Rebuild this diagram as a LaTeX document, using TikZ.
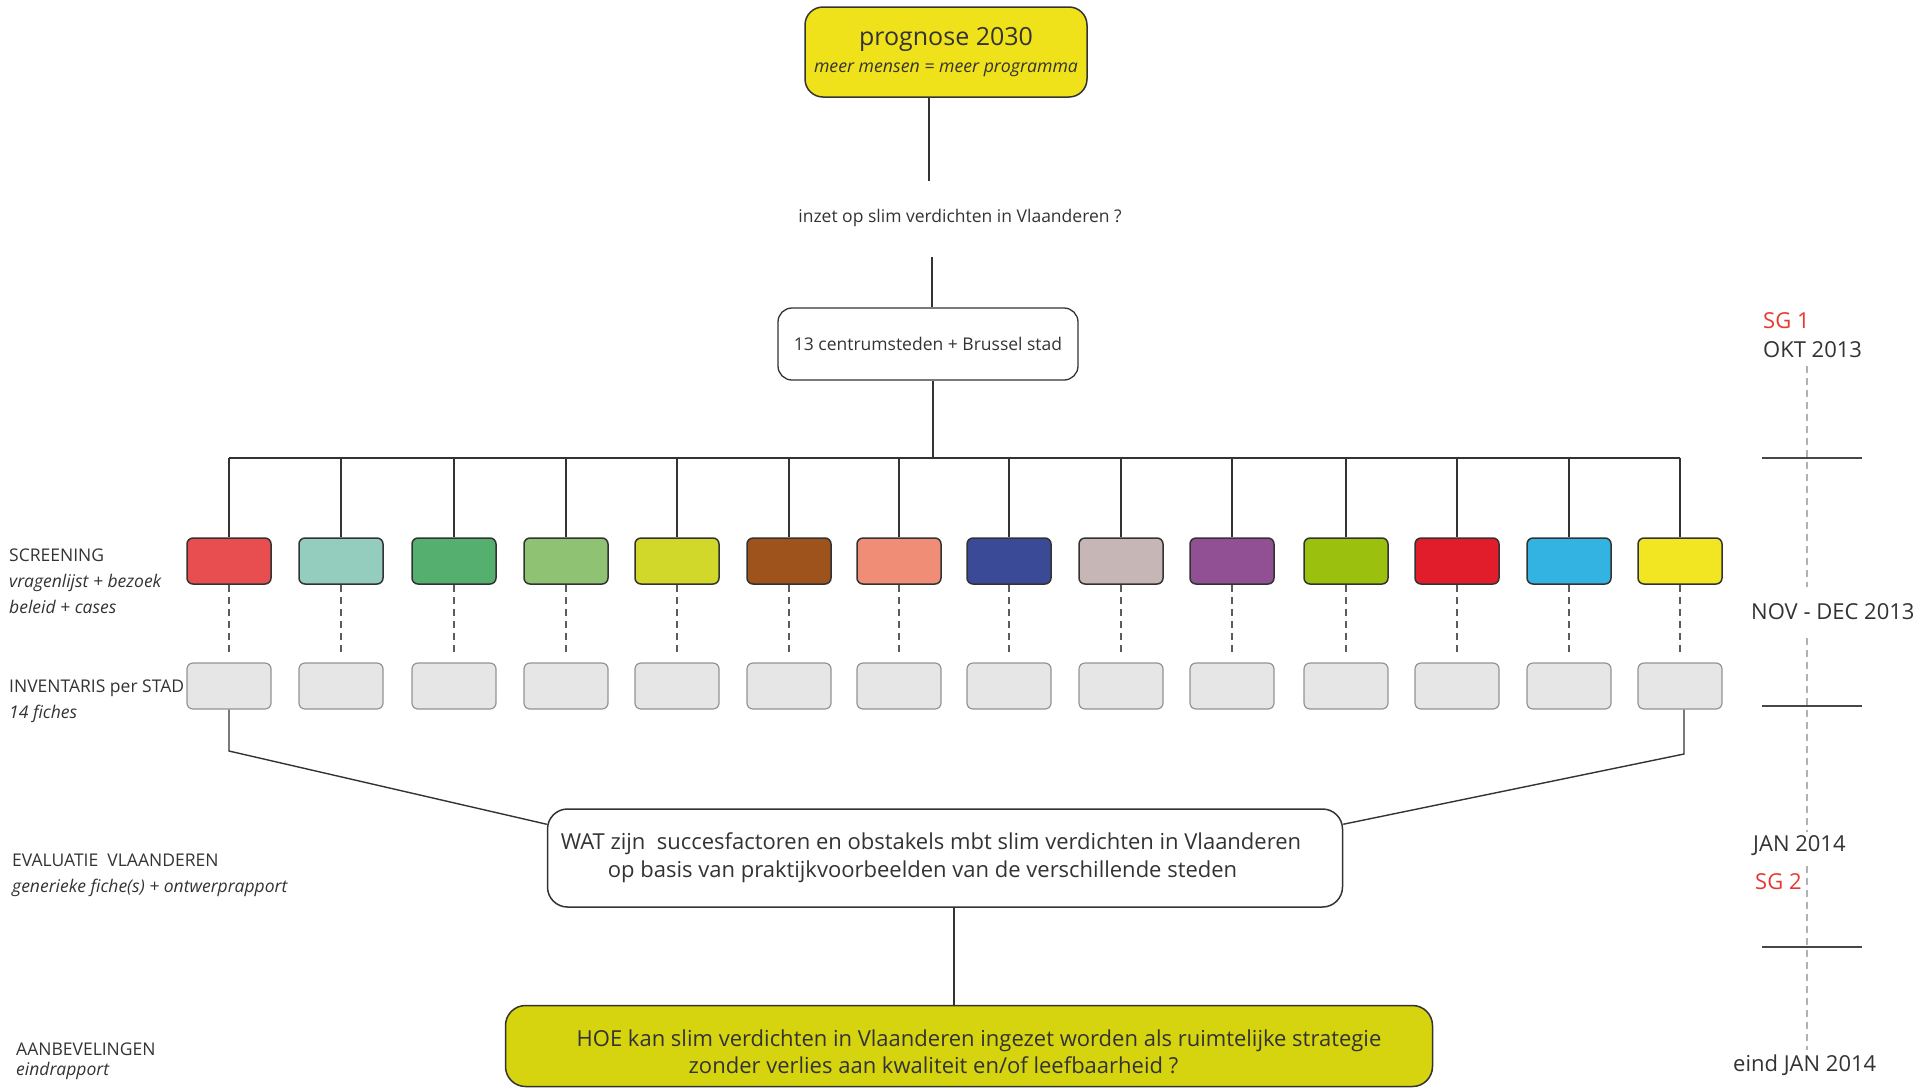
\documentclass[tikz,border=0pt]{standalone}
\usepackage{fontspec}
\setmainfont{Open Sans}

\definecolor{ink}{HTML}{333333}
\definecolor{sgred}{HTML}{E8392E}
\definecolor{progyellow}{HTML}{F0E21A}
\definecolor{hoegreen}{HTML}{D5D40E}
\definecolor{fichegray}{HTML}{E6E6E6}
\definecolor{stadA}{HTML}{E84E50}
\definecolor{stadB}{HTML}{94CDBE}
\definecolor{stadC}{HTML}{55AF6F}
\definecolor{stadD}{HTML}{8FC272}
\definecolor{stadE}{HTML}{D2D82A}
\definecolor{stadF}{HTML}{9E521C}
\definecolor{stadG}{HTML}{F08D77}
\definecolor{stadH}{HTML}{3B4A96}
\definecolor{stadI}{HTML}{C6B6B6}
\definecolor{stadJ}{HTML}{915094}
\definecolor{stadK}{HTML}{9BC00E}
\definecolor{stadL}{HTML}{E21D2B}
\definecolor{stadM}{HTML}{33B3E1}
\definecolor{stadN}{HTML}{F2E622}

\begin{document}
\begin{tikzpicture}[
    x=1pt, y=-1pt,
    bigbox/.style={draw=ink, line width=1.5pt, rounded corners=18pt, align=center, text=ink, inner sep=0pt},
    stadbox/.style={draw=ink, line width=1.5pt, rounded corners=6pt, minimum width=84pt, minimum height=46pt, inner sep=0pt},
    fiche/.style={draw=gray!85, fill=fichegray, line width=1.2pt, rounded corners=6pt, minimum width=84pt, minimum height=46pt, inner sep=0pt},
    link/.style={draw=ink, line width=1.4pt},
    dashlink/.style={draw=ink!80, line width=1.4pt, dash pattern=on 7pt off 5pt, shorten >=6pt},
    lbl/.style={anchor=west, align=left, text=ink, inner sep=0pt, font=\fontsize{17.5}{26}\selectfont},
    when/.style={anchor=west, text=ink, inner sep=0pt, font=\fontsize{22}{26}\selectfont},
    timeline/.style={draw=gray!60, line width=1.2pt, dash pattern=on 7pt off 5pt},
    tick/.style={draw=ink!90, line width=1.8pt}
  ]
    \useasboundingbox (0,0) rectangle (1917,1088);

    % top of the scheme
    \node[bigbox, fill=progyellow, minimum width=282pt, minimum height=90pt,
          font=\fontsize{25}{27}\selectfont] (prognose) at (946,52)
          {prognose 2030\\{\itshape\fontsize{17.7}{27}\selectfont meer mensen = meer programma}};
    \node[text=ink, inner sep=0pt, font=\fontsize{17.5}{20}\selectfont] (vraag) at (960,218)
          {inzet op slim verdichten in Vlaanderen ?};
    \node[bigbox, rounded corners=14pt, line width=1.3pt, minimum width=300pt, minimum height=72pt,
          font=\fontsize{17.5}{20}\selectfont] (steden) at (928,344) {13 centrumsteden + Brussel stad};
    \coordinate (p1) at (929,181);
    \coordinate (p2) at (932,257);
    \coordinate (bus) at (933,458);
    \draw[link] (prognose.south -| p1) -- (p1);
    \draw[link] (p2) -- (steden.north -| p2);
    \draw[link] (steden.south -| bus) -- (bus);

    % cities
    \foreach \i/\col/\xx in {1/stadA/229, 2/stadB/341, 3/stadC/454, 4/stadD/566, 5/stadE/677,
                            6/stadF/789, 7/stadG/899, 8/stadH/1009, 9/stadI/1121, 10/stadJ/1232,
                            11/stadK/1346, 12/stadL/1457, 13/stadM/1569, 14/stadN/1680} {
      \node[stadbox, fill=\col] (c\i) at (\xx,561) {};
      \node[fiche] (g\i) at (\xx,686) {};
      \draw[link] (c\i.north) -- (c\i.north |- bus);
      \draw[dashlink] (c\i.south) -- (g\i.north);
    }
    \draw[link] (c1.north |- bus) -- (c14.north |- bus);

    % evaluation and recommendations
    \node[bigbox, align=left, fill=white, rounded corners=20pt, minimum width=795pt, minimum height=98pt,
          font=\fontsize{22}{28}\selectfont] (wat) at (945,858)
          {WAT zijn~ succesfactoren en obstakels mbt slim verdichten in Vlaanderen\hspace*{28pt}\\
           \hspace*{47pt}op basis van praktijkvoorbeelden van de verschillende steden};
    \node[bigbox, align=left, fill=hoegreen, rounded corners=20pt, minimum width=927pt, minimum height=81pt,
          font=\fontsize{22}{27}\selectfont] (hoe) at (969,1046)
          {\rule{0pt}{29pt}\hspace*{20pt}HOE kan slim verdichten in Vlaanderen ingezet worden als ruimtelijke strategie\\
           \hspace*{132pt}zonder verlies aan kwaliteit en/of leefbaarheid ?};
    \coordinate (k1) at (229,751);
    \coordinate (k14) at (1684,754);
    \coordinate (m) at (954,930);
    \draw[link] (g1.south) -- (k1) -- ([yshift=-16pt]wat.north west);
    \draw[link] (g14.south -| k14) -- (k14) -- ([yshift=-16pt]wat.north east);
    \draw[link] (wat.south -| m) -- (hoe.north -| m);

    % phases on the left
    \node[lbl] (screening) at (9,581)
          {SCREENING\\{\itshape vragenlijst + bezoek}\\{\itshape beleid + cases}};
    \node[lbl] (inventaris) at (9,701) {INVENTARIS per STAD\\{\itshape 14 fiches}};
    \node[lbl] (evaluatie) at (12,875.5)
          {EVALUATIE~ VLAANDEREN\\{\itshape generieke fiche(s) + ontwerprapport}};
    \node[lbl, font=\fontsize{17.5}{20}\selectfont] (aanbeveling) at (16,1061)
          {AANBEVELINGEN\\{\itshape eindrapport}};

    % timeline on the right
    \coordinate (tl) at (1807,0);
    \node[when, text=sgred] (sg1) at (1763,321) {SG 1};
    \node[when] (okt) at (1763,350) {OKT 2013};
    \node[when] (novdec) at (1751,612) {NOV - DEC 2013};
    \node[when] (jan) at (1753,846) {JAN 2014};
    \node[when, text=sgred] (sg2) at (1755,882) {SG 2};
    \node[when] (eind) at (1733,1065) {eind JAN 2014};
    \draw[timeline] ([yshift=-8pt]okt.south -| tl) -- ([yshift=17pt]novdec.north -| tl);
    \draw[timeline] ([yshift=-18pt]novdec.south -| tl) -- ([yshift=4pt]jan.north -| tl);
    \draw[timeline] ([yshift=-10pt]jan.south -| tl) -- ([yshift=4pt]eind.north -| tl);
    \draw[tick] (1762,458) -- (1862,458);
    \draw[tick] (1762,706) -- (1862,706);
    \draw[tick] (1762,947) -- (1862,947);
  \end{tikzpicture}
\end{document}
